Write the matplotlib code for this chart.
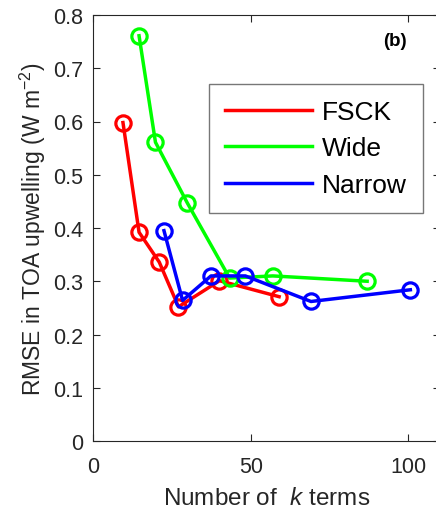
import matplotlib
matplotlib.use('Agg')
import matplotlib.pyplot as plt

plt.rcParams['font.family'] = ['Liberation Sans', 'DejaVu Sans']
plt.rcParams['mathtext.fontset'] = 'custom'
plt.rcParams['mathtext.rm'] = 'Liberation Sans'
plt.rcParams['mathtext.it'] = 'Liberation Sans:italic'

# data
fsck_x = [9.5, 14.6, 21.0, 27.1, 40.1, 59.0]
fsck_y = [0.598, 0.392, 0.336, 0.252, 0.301, 0.271]
wide_x = [14.6, 19.8, 29.9, 43.3, 57.0, 86.9]
wide_y = [0.761, 0.561, 0.447, 0.306, 0.310, 0.300]
narrow_x = [22.5, 28.4, 37.4, 48.3, 69.1, 100.6]
narrow_y = [0.395, 0.264, 0.310, 0.310, 0.262, 0.284]

W, H = 436, 510
fig = plt.figure(figsize=(W / 100, H / 100), dpi=100)
ax = fig.add_axes([93 / W, (H - 442) / H, (440 - 93) / W, (442 - 16) / H])

kw = dict(marker='o', markersize=11, markerfacecolor='none', markeredgewidth=2.3, lw=2.5)
ax.plot(fsck_x, fsck_y, color='#ff0000', label='FSCK', **kw)
ax.plot(wide_x, wide_y, color='#00ff00', label='Wide', **kw)
ax.plot(narrow_x, narrow_y, color='#0000ff', label='Narrow', **kw)

ax.set_xlim(0, 110)
ax.set_ylim(0, 0.8)
ax.set_xticks([0, 50, 100])
ax.set_yticks([0, 0.1, 0.2, 0.3, 0.4, 0.5, 0.6, 0.7, 0.8])
ax.set_yticklabels(['0', '0.1', '0.2', '0.3', '0.4', '0.5', '0.6', '0.7', '0.8'])
ax.tick_params(direction='in', length=5, width=0.8, top=True, right=True,
               labelsize=15.5, colors='#262626')
ax.tick_params(axis='x', pad=11)
ax.tick_params(axis='y', pad=7)
for s in ax.spines.values():
    s.set_color('#262626')
    s.set_linewidth(0.8)

ax.set_xlabel('Number of  $k$ terms', fontsize=17.5, color='#262626', labelpad=7)
ax.set_ylabel('RMSE in TOA upwelling (W m$^{-2}$)', fontsize=16.5, color='#262626', labelpad=4)

fig.text(395 / W, 1 - 42 / H, '(b)', fontsize=13.5, fontweight='bold',
         ha='center', va='center')

leg = ax.legend(loc='upper left', bbox_to_anchor=(209 / W, 1 - 85 / H),
                bbox_transform=fig.transFigure, borderaxespad=0, fancybox=False,
                fontsize=19, handlelength=3.3, handletextpad=0.38,
                labelspacing=0.48, borderpad=0.6)
leg.get_frame().set_edgecolor('#555555')
leg.get_frame().set_linewidth(1.0)
for h in leg.legend_handles:
    h.set_marker('')

fig.savefig('out.png', dpi=100)
